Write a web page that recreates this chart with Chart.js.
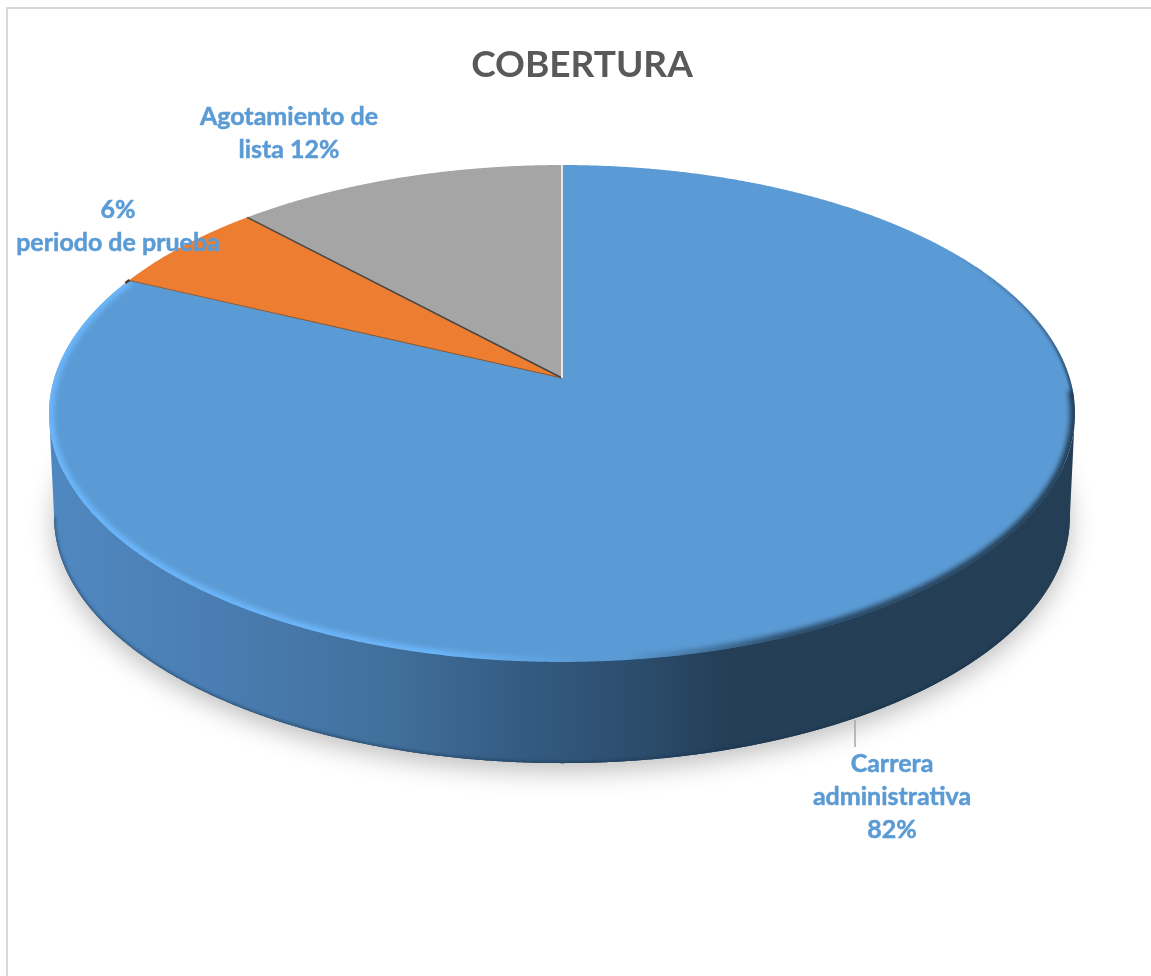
<!DOCTYPE html>
<html>
<head>
<meta charset="utf-8">
<style>html,body{margin:0;padding:0;background:#fff}canvas{display:block}</style>
<script src="https://cdn.jsdelivr.net/npm/chart.js@4"></script>
</head>
<body>
<canvas id="c" width="1151" height="976"></canvas>
<script>
const chartTitle = 'COBERTURA';
const categories = ['Carrera administrativa', 'periodo de prueba', 'Agotamiento de lista'];
const values = [82, 6, 12];
const sliceColors = ['#5b9bd5', '#ed7d31', '#a5a5a5'];
const labelLines = [
  ['Carrera', 'administrativa', '82%'],
  ['6%', 'periodo de prueba'],
  ['Agotamiento de', 'lista 12%']
];
const labelCenters = [[892, 764], [118, 210], [289, 117]];

// perspective projection of the pie disc
const CX = 562, CY = 378, A = 507.7, B = 243.4, K = 1 / 7, DEPTH = 104, BOTTOM_SCALE = 0.99;
function proj(a, bottom) {
  const u = Math.cos(a), v = Math.sin(a), d = 1 - K * v;
  const s = bottom ? BOTTOM_SCALE : 1;
  return [CX + s * A * u / d, CY + (bottom ? DEPTH : 0) + s * B * v / d];
}
function rimTo(ctx, a0, a1, bottom) {
  const n = Math.max(2, Math.ceil(Math.abs(a1 - a0) / 0.004));
  for (let i = 0; i <= n; i++) {
    const p = proj(a0 + (a1 - a0) * i / n, bottom);
    ctx.lineTo(p[0], p[1]);
  }
}
// angle of widest point on the ellipse (v = K)
const WIDE = Math.asin(K);

const pie3d = {
  id: 'pie3d',
  beforeDraw(chart) {
    const ctx = chart.ctx;
    ctx.save();
    ctx.fillStyle = '#d9d9d9';
    ctx.fillRect(6, 7, 1145, 2);
    ctx.fillRect(6, 7, 2, 969);
    ctx.restore();
  },
  beforeDatasetDraw(chart) {
    const ctx = chart.ctx;
    const arcs = chart.getDatasetMeta(0).data;
    ctx.save();
    // soft drop shadow beneath the body
    ctx.save();
    ctx.shadowColor = 'rgba(0,0,0,0.26)';
    ctx.shadowBlur = 26;
    ctx.shadowOffsetY = 8;
    ctx.fillStyle = '#243e55';
    ctx.beginPath();
    rimTo(ctx, 0, Math.PI * 2, true);
    ctx.closePath();
    ctx.fill();
    ctx.restore();
    // side wall
    const g = ctx.createLinearGradient(50, 0, 1075, 0);
    [[0, '#4f88c0'], [0.14, '#4b7fb4'], [0.33, '#41709c'], [0.46, '#345b82'],
     [0.58, '#2b4c6b'], [0.66, '#243f57'], [1, '#243e55']].forEach(s => g.addColorStop(s[0], s[1]));
    ctx.fillStyle = g;
    ctx.beginPath();
    rimTo(ctx, WIDE, Math.PI - WIDE, true);
    rimTo(ctx, Math.PI - WIDE, WIDE, false);
    ctx.closePath();
    ctx.fill();
    // darker lower edge of the wall
    ctx.save();
    ctx.beginPath();
    rimTo(ctx, WIDE, Math.PI - WIDE, true);
    rimTo(ctx, Math.PI - WIDE, WIDE, false);
    ctx.closePath();
    ctx.clip();
    ctx.filter = 'blur(1.5px)';
    ctx.strokeStyle = 'rgba(20,45,70,0.5)';
    ctx.lineWidth = 3;
    ctx.beginPath();
    rimTo(ctx, WIDE + 0.4, Math.PI - WIDE, true);
    ctx.stroke();
    ctx.restore();

    // top face: one wedge per library arc
    arcs.forEach((arc, i) => {
      const p = arc.getProps(['startAngle', 'endAngle'], true);
      ctx.fillStyle = sliceColors[i];
      ctx.beginPath();
      ctx.moveTo(CX, CY);
      rimTo(ctx, p.startAngle, p.endAngle, false);
      ctx.closePath();
      ctx.fill();
    });

    const blue = arcs[0].getProps(['startAngle', 'endAngle'], true);
    // bevel on the blue slice
    ctx.save();
    ctx.beginPath();
    ctx.moveTo(CX, CY);
    rimTo(ctx, blue.startAngle, blue.endAngle, false);
    ctx.closePath();
    ctx.clip();
    ctx.filter = 'blur(2.5px)';
    const h = ctx.createLinearGradient(50, 0, 1075, 0);
    h.addColorStop(0, 'rgba(108,182,250,1)');
    h.addColorStop(0.38, 'rgba(108,182,250,0.95)');
    h.addColorStop(0.52, 'rgba(108,182,250,0)');
    h.addColorStop(0.56, 'rgba(36,62,85,0)');
    h.addColorStop(0.72, 'rgba(36,62,85,0.85)');
    h.addColorStop(1, 'rgba(36,62,85,1)');
    ctx.strokeStyle = h;
    ctx.lineWidth = 10;
    ctx.beginPath();
    rimTo(ctx, 0.05, Math.PI, false);
    rimTo(ctx, Math.PI, blue.endAngle, false);
    ctx.stroke();
    // thin dark rim fading out along the upper right
    const r = ctx.createLinearGradient(0, 250, 0, 410);
    r.addColorStop(0, 'rgba(36,62,85,0)');
    r.addColorStop(1, 'rgba(36,62,85,0.95)');
    ctx.strokeStyle = r;
    ctx.lineWidth = 5;
    ctx.filter = 'blur(1px)';
    ctx.beginPath();
    rimTo(ctx, -0.8, 0.08, false);
    ctx.stroke();
    ctx.restore();

    // seams between slices
    const edge = (arcAngle, color, w) => {
      const q = proj(arcAngle, false);
      ctx.strokeStyle = color;
      ctx.lineWidth = w;
      ctx.beginPath();
      ctx.moveTo(CX, CY);
      ctx.lineTo(q[0], q[1]);
      ctx.stroke();
    };
    const orange = arcs[1].getProps(['startAngle', 'endAngle'], true);
    const gray = arcs[2].getProps(['startAngle', 'endAngle'], true);
    edge(orange.startAngle, '#8a5a35', 1);
    edge(gray.startAngle, '#454545', 1.5);
    edge(gray.endAngle, '#e6e6e6', 2);
    // tiny dark lip where the orange rim meets the blue slice
    ctx.strokeStyle = '#5a3a20';
    ctx.lineWidth = 2.5;
    ctx.beginPath();
    rimTo(ctx, orange.startAngle - 0.014, orange.startAngle + 0.002, false);
    ctx.stroke();
    ctx.restore();
    return false;
  },
  afterDatasetsDraw(chart) {
    const ctx = chart.ctx;
    ctx.save();
    ctx.strokeStyle = '#a6a6a6';
    ctx.lineWidth = 1.5;
    ctx.beginPath();
    ctx.moveTo(855, 720);
    ctx.lineTo(855, 747);
    ctx.stroke();
    ctx.fillStyle = '#5b9bd5';
    ctx.strokeStyle = '#5b9bd5';
    ctx.lineWidth = 0.5;
    ctx.font = 'bold 25px Lato';
    ctx.textAlign = 'center';
    ctx.textBaseline = 'middle';
    labelLines.forEach((lines, i) => {
      lines.forEach((t, j) => {
        const y = labelCenters[i][1] + j * 33;
        ctx.fillText(t, labelCenters[i][0], y);
        ctx.strokeText(t, labelCenters[i][0], y);
      });
    });
    ctx.restore();
  }
};

new Chart(document.getElementById('c'), {
  type: 'pie',
  data: {
    labels: categories,
    datasets: [{ data: values, backgroundColor: sliceColors, borderWidth: 0 }]
  },
  plugins: [pie3d],
  options: {
    responsive: false,
    animation: false,
    layout: { padding: { left: 13 } },
    plugins: {
      legend: { display: false },
      tooltip: { enabled: false },
      title: {
        display: true,
        text: chartTitle,
        color: '#595959',
        font: { family: 'Lato', size: 37, weight: 'bold', lineHeight: 1.2 },
        padding: { top: 43, bottom: 10 }
      }
    }
  }
});
</script>
</body>
</html>
